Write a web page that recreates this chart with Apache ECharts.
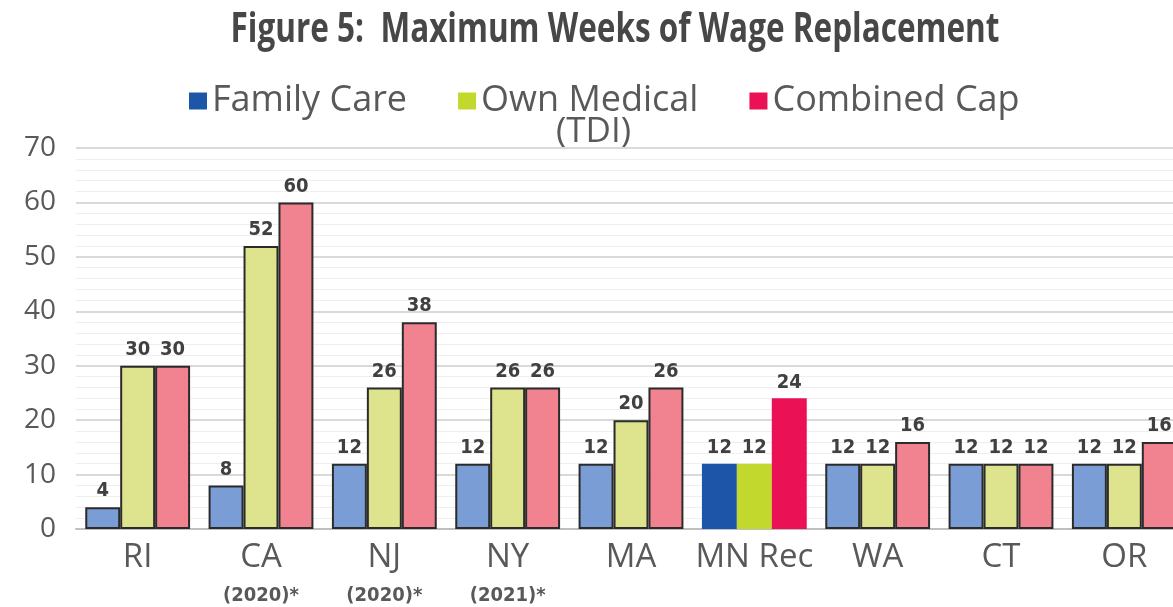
<!DOCTYPE html>
<html>
<head>
<meta charset="utf-8">
<script src="https://cdn.jsdelivr.net/npm/echarts@6/dist/echarts.min.js"></script>
<style>
  html, body { margin: 0; padding: 0; background: #fff; }
  #chart { width: 1173px; height: 607px; }
</style>
</head>
<body>
<div id="chart"></div>
<script>
const states = ['RI', 'CA', 'NJ', 'NY', 'MA', 'MN Rec', 'WA', 'CT', 'OR'];
const stateNotes = ['', '(2020)*', '(2020)*', '(2021)*', '', '', '', '', ''];
const familyCare = [4, 8, 12, 12, 12, 12, 12, 12, 12];
const ownMedical = [30, 52, 26, 26, 20, 12, 12, 12, 12];
const combinedCap = [30, 60, 38, 26, 26, 24, 16, 12, 16];
const yTicks = [0, 10, 20, 30, 40, 50, 60, 70];
const recommended = 'MN Rec';

const narrow = "'DejaVu Sans Condensed', sans-serif";
const sans = "'Open Sans', sans-serif";

const chart = echarts.init(document.getElementById('chart'));

// bright colour for the recommendation group + legend, pale tint with outline for the others
function makeSeries(name, values, strong, pale) {
    return {
        name: name,
        type: 'bar',
        barGap: '0%',
        barCategoryGap: '15%',
        itemStyle: { color: strong },
        label: {
            show: true,
            position: 'top',
            distance: 6,
            fontFamily: narrow,
            fontWeight: 'bold',
            fontSize: 20,
            color: '#404040'
        },
        data: values.map(function (v, i) {
            if (states[i] === recommended) {
                return { value: v, itemStyle: { color: strong, borderWidth: 0 } };
            }
            return { value: v, itemStyle: { color: pale, borderColor: '#2b2b2b', borderWidth: 2 } };
        })
    };
}

chart.setOption({
    animation: false,
    legend: {
        top: 78,
        left: 184,
        itemGap: 51,
        itemWidth: 18,
        itemHeight: 17,
        icon: 'rect',
        itemStyle: { borderWidth: 0 },
        textStyle: { fontFamily: sans, fontSize: 36, color: '#595959' },
        data: ['Family Care', 'Own Medical', 'Combined Cap']
    },
    graphic: [{
        // title drawn as graphic text so it can be squeezed like the condensed original
        type: 'text',
        x: 615,
        y: 30,
        scaleX: 0.75,
        style: {
            text: 'Figure 5:  Maximum Weeks of Wage Replacement',
            font: "bold 42px 'Open Sans', sans-serif",
            fill: '#474747',
            textAlign: 'center',
            textVerticalAlign: 'middle'
        }
    }, {
        type: 'text',
        left: 556,
        top: 115,
        style: { text: '(TDI)', font: "35px 'Open Sans', sans-serif", fill: '#595959' }
    }],
    grid: { left: 76, width: 1110, top: 148, bottom: 78, outerBoundsMode: 'none' },
    xAxis: {
        type: 'category',
        data: states,
        axisTick: { show: false },
        axisLine: { lineStyle: { color: '#bfbfbf', width: 2 } },
        axisLabel: {
            margin: 10,
            interval: 0,
            formatter: function (value, idx) {
                const note = stateNotes[idx];
                return note ? '{main|' + value + '}\n{sub|' + note + '}' : '{main|' + value + '}';
            },
            rich: {
                main: { fontFamily: sans, fontSize: 33, color: '#595959', lineHeight: 38 },
                sub: { fontFamily: narrow, fontWeight: 'bold', fontSize: 20, color: '#595959', lineHeight: 38 }
            }
        }
    },
    yAxis: {
        type: 'value',
        min: yTicks[0],
        max: yTicks[yTicks.length - 1],
        interval: 10,
        axisLine: { show: false },
        axisTick: { show: false },
        axisLabel: { fontFamily: sans, fontSize: 28, color: '#595959', margin: 20 },
        splitLine: { lineStyle: { color: '#d9d9d9', width: 2 } },
        minorTick: { show: false, splitNumber: 5 },
        minorSplitLine: { show: true, lineStyle: { color: '#efefef', width: 1 } }
    },
    series: [
        makeSeries('Family Care', familyCare, '#1d56a8', '#7a9dd6'),
        makeSeries('Own Medical', ownMedical, '#c3d82c', '#dde48d'),
        makeSeries('Combined Cap', combinedCap, '#ea1254', '#f0838f')
    ]
});
</script>
</body>
</html>
